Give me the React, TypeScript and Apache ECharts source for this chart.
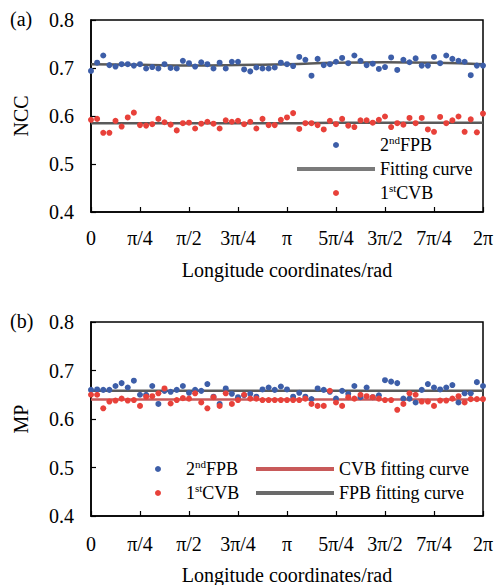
import React, { useEffect, useRef } from "react";
import * as echarts from "echarts";

// x tick labels (units of π/4)
const xTickLabels = ["0", "π/4", "π/2", "3π/4", "π", "5π/4", "3π/2", "7π/4", "2π"];

// (a) NCC – 65 samples from 0 to 2π
const ncc2ndFPB = [
  0.694, 0.711, 0.726, 0.706, 0.703, 0.708, 0.708, 0.705, 0.708, 0.699,
  0.702, 0.699, 0.708, 0.700, 0.699, 0.715, 0.710, 0.703, 0.712, 0.708,
  0.699, 0.711, 0.699, 0.713, 0.713, 0.697, 0.693, 0.701, 0.699, 0.699,
  0.701, 0.711, 0.708, 0.704, 0.723, 0.717, 0.684, 0.719, 0.706, 0.708,
  0.713, 0.721, 0.710, 0.726, 0.715, 0.706, 0.709, 0.698, 0.702, 0.722,
  0.696, 0.717, 0.712, 0.720, 0.705, 0.705, 0.723, 0.710, 0.726, 0.719,
  0.715, 0.713, 0.685, 0.705, 0.705,
];
const ncc1stCVB = [
  0.592, 0.594, 0.565, 0.565, 0.590, 0.578, 0.597, 0.607, 0.581, 0.580,
  0.583, 0.594, 0.587, 0.582, 0.570, 0.585, 0.586, 0.574, 0.584, 0.588,
  0.584, 0.574, 0.591, 0.588, 0.590, 0.583, 0.588, 0.574, 0.594, 0.581,
  0.581, 0.592, 0.597, 0.606, 0.573, 0.585, 0.585, 0.581, 0.572, 0.590,
  0.583, 0.594, 0.580, 0.577, 0.591, 0.591, 0.586, 0.592, 0.599, 0.577,
  0.585, 0.582, 0.596, 0.585, 0.596, 0.572, 0.567, 0.598, 0.585, 0.591,
  0.599, 0.567, 0.593, 0.566, 0.605,
];
// fitting curves sampled at every π/4
const nccFpbFit = [0.708, 0.707, 0.705, 0.706, 0.708, 0.711, 0.712, 0.711, 0.708];
const nccCvbFit = [0.585, 0.585, 0.585, 0.585, 0.585, 0.586, 0.586, 0.586, 0.586];

// (b) MP
const mp2ndFPB = [
  0.660, 0.661, 0.660, 0.660, 0.668, 0.674, 0.665, 0.679, 0.650, 0.650,
  0.668, 0.631, 0.658, 0.656, 0.660, 0.668, 0.654, 0.660, 0.658, 0.672,
  0.646, 0.631, 0.663, 0.652, 0.645, 0.649, 0.652, 0.646, 0.661, 0.665,
  0.660, 0.667, 0.661, 0.646, 0.654, 0.646, 0.641, 0.663, 0.660, 0.656,
  0.642, 0.658, 0.652, 0.668, 0.645, 0.665, 0.645, 0.649, 0.680, 0.677,
  0.674, 0.642, 0.642, 0.634, 0.660, 0.672, 0.665, 0.661, 0.665, 0.670,
  0.634, 0.653, 0.653, 0.676, 0.668,
];
const mp1stCVB = [
  0.650, 0.650, 0.622, 0.636, 0.638, 0.642, 0.638, 0.639, 0.627, 0.646,
  0.647, 0.653, 0.663, 0.632, 0.639, 0.643, 0.642, 0.653, 0.634, 0.622,
  0.645, 0.627, 0.653, 0.631, 0.639, 0.650, 0.642, 0.642, 0.639, 0.639,
  0.639, 0.639, 0.639, 0.639, 0.639, 0.642, 0.631, 0.627, 0.627, 0.658,
  0.634, 0.627, 0.645, 0.642, 0.650, 0.647, 0.645, 0.642, 0.639, 0.639,
  0.619, 0.631, 0.653, 0.650, 0.636, 0.636, 0.627, 0.638, 0.638, 0.642,
  0.647, 0.634, 0.641, 0.641, 0.641,
];
const mpCvbFit = [0.640, 0.640, 0.640, 0.640, 0.640, 0.640, 0.640, 0.640, 0.640];
const mpFpbFit = [0.658, 0.658, 0.658, 0.658, 0.658, 0.658, 0.658, 0.658, 0.658];

const FONT = "Liberation Serif";
const BLUE = "#3d5ea8";
const RED = "#e8413a";
const GRAY = "#5a5a5a";
const PINK = "#c85a5a";
const LINE_ICON = "path://M0,0H78V4H0Z";

const sampleX = (n: number) => (i: number) => (i * 8) / (n - 1);
const toPairs = (vals: number[]) => vals.map((v, i) => [sampleX(vals.length)(i), v]);

export default function App() {
  const ref = useRef<HTMLDivElement>(null);
  useEffect(() => {
    document.body.style.margin = "0";
    const chart = echarts.init(ref.current!, null, { renderer: "svg" });

    const xAxisBase = (gridIndex: number, labelMargin: number, nameGap: number) => ({
      type: "value" as const,
      gridIndex,
      min: 0,
      max: 8,
      interval: 1,
      name: "Longitude coordinates/rad",
      nameLocation: "middle" as const,
      nameGap,
      nameTextStyle: { fontFamily: FONT, fontSize: 20, color: "#000", lineHeight: 20 },
      axisLine: { show: true, lineStyle: { color: "#000", width: 1.5 } },
      axisTick: { show: true, inside: true, length: 5, lineStyle: { color: "#000", width: 1.2 } },
      axisLabel: {
        margin: labelMargin,
        fontFamily: FONT,
        fontSize: 20,
        color: "#000",
        formatter: (v: number) => xTickLabels[Math.round(v)] ?? "",
      },
      splitLine: { show: false },
    });
    const yAxisBase = (gridIndex: number, name: string) => ({
      type: "value" as const,
      gridIndex,
      min: 0.4,
      max: 0.8,
      interval: 0.1,
      name,
      nameLocation: "middle" as const,
      nameGap: 60,
      nameTextStyle: { fontFamily: FONT, fontSize: 20, color: "#000" },
      axisLine: { show: true, lineStyle: { color: "#000", width: 1.5 } },
      axisTick: { show: true, inside: true, length: 5, lineStyle: { color: "#000", width: 1.2 } },
      axisLabel: {
        margin: 17,
        fontFamily: FONT,
        fontSize: 20,
        color: "#000",
        formatter: (v: number) => v.toFixed(1),
      },
      splitLine: { show: false },
    });

    const legendText = {
      fontFamily: FONT,
      fontSize: 18,
      color: "#000",
      lineHeight: 22,
      rich: {
        s: { fontFamily: FONT, fontSize: 11, color: "#000", verticalAlign: "top", lineHeight: 13 },
      },
    };
    const legendFmt = (name: string) => {
      if (name === "2ndFPB") return "2{s|nd}FPB";
      if (name === "1stCVB") return "1{s|st}CVB";
      return name;
    };

    chart.setOption({
      animation: false,
      backgroundColor: "#fff",
      grid: [
        { left: 91, right: 15, top: 20, height: 192, show: true, borderColor: "#000", borderWidth: 1.5, outerBoundsMode: "none" },
        { left: 91, right: 15, top: 322, height: 194, show: true, borderColor: "#000", borderWidth: 1.5, outerBoundsMode: "none" },
      ],
      xAxis: [xAxisBase(0, 16, 48), xAxisBase(1, 18, 49)],
      yAxis: [yAxisBase(0, "NCC"), yAxisBase(1, "MP")],
      legend: [
        {
          left: 297, top: 134, orient: "vertical", itemWidth: 78, itemHeight: 6, itemGap: 2, padding: 0,
          selectedMode: false, textStyle: legendText, formatter: legendFmt,
          data: [
            { name: "2ndFPB", icon: "circle" },
            { name: "Fitting curve", icon: LINE_ICON },
            { name: "1stCVB", icon: "circle" },
          ],
        },
        {
          left: 155, top: 458, orient: "vertical", itemWidth: 46, itemHeight: 6, itemGap: 2, padding: 0,
          selectedMode: false, textStyle: legendText, formatter: legendFmt,
          data: [
            { name: "2ndFPB", icon: "circle" },
            { name: "1stCVB", icon: "circle" },
          ],
        },
        {
          left: 256, top: 458, orient: "vertical", itemWidth: 78, itemHeight: 6, itemGap: 2, padding: 0,
          selectedMode: false, textStyle: legendText,
          data: [
            { name: "CVB fitting curve", icon: LINE_ICON },
            { name: "FPB fitting curve", icon: LINE_ICON },
          ],
        },
      ],
      graphic: [
        { type: "text", left: 10, top: 9, style: { text: "(a)", font: `20px ${FONT}`, fill: "#000" } },
        { type: "text", left: 10, top: 311, style: { text: "(b)", font: `20px ${FONT}`, fill: "#000" } },
      ],
      series: [
        {
          name: "Fitting curve", type: "line", xAxisIndex: 0, yAxisIndex: 0, smooth: true,
          symbol: "none", data: toPairs(nccFpbFit), lineStyle: { color: GRAY, width: 2.5 }, itemStyle: { color: "#7a7a7a" }, z: 2,
        },
        {
          name: "Fitting curve", type: "line", xAxisIndex: 0, yAxisIndex: 0, smooth: true,
          symbol: "none", data: toPairs(nccCvbFit), lineStyle: { color: GRAY, width: 2.5 }, itemStyle: { color: "#7a7a7a" }, z: 2,
        },
        {
          name: "2ndFPB", type: "scatter", xAxisIndex: 0, yAxisIndex: 0, symbolSize: 6,
          data: toPairs(ncc2ndFPB), itemStyle: { color: BLUE, opacity: 1 }, z: 3,
        },
        {
          name: "1stCVB", type: "scatter", xAxisIndex: 0, yAxisIndex: 0, symbolSize: 6,
          data: toPairs(ncc1stCVB), itemStyle: { color: RED, opacity: 1 }, z: 3,
        },
        {
          name: "FPB fitting curve", type: "line", xAxisIndex: 1, yAxisIndex: 1,
          symbol: "none", data: toPairs(mpFpbFit), lineStyle: { color: GRAY, width: 2.5 }, itemStyle: { color: "#6a6a6a" }, z: 2,
        },
        {
          name: "CVB fitting curve", type: "line", xAxisIndex: 1, yAxisIndex: 1,
          symbol: "none", data: toPairs(mpCvbFit), lineStyle: { color: PINK, width: 2.5 }, itemStyle: { color: PINK }, z: 2,
        },
        {
          name: "2ndFPB", type: "scatter", xAxisIndex: 1, yAxisIndex: 1, symbolSize: 6,
          data: toPairs(mp2ndFPB), itemStyle: { color: BLUE, opacity: 1 }, z: 3,
        },
        {
          name: "1stCVB", type: "scatter", xAxisIndex: 1, yAxisIndex: 1, symbolSize: 6,
          data: toPairs(mp1stCVB), itemStyle: { color: RED, opacity: 1 }, z: 3,
        },
      ],
    });
    return () => chart.dispose();
  }, []);
  return (
    <div
      ref={ref}
      style={{ position: "fixed", left: 0, top: 0, width: 498, height: 585, background: "#fff" }}
    />
  );
}
